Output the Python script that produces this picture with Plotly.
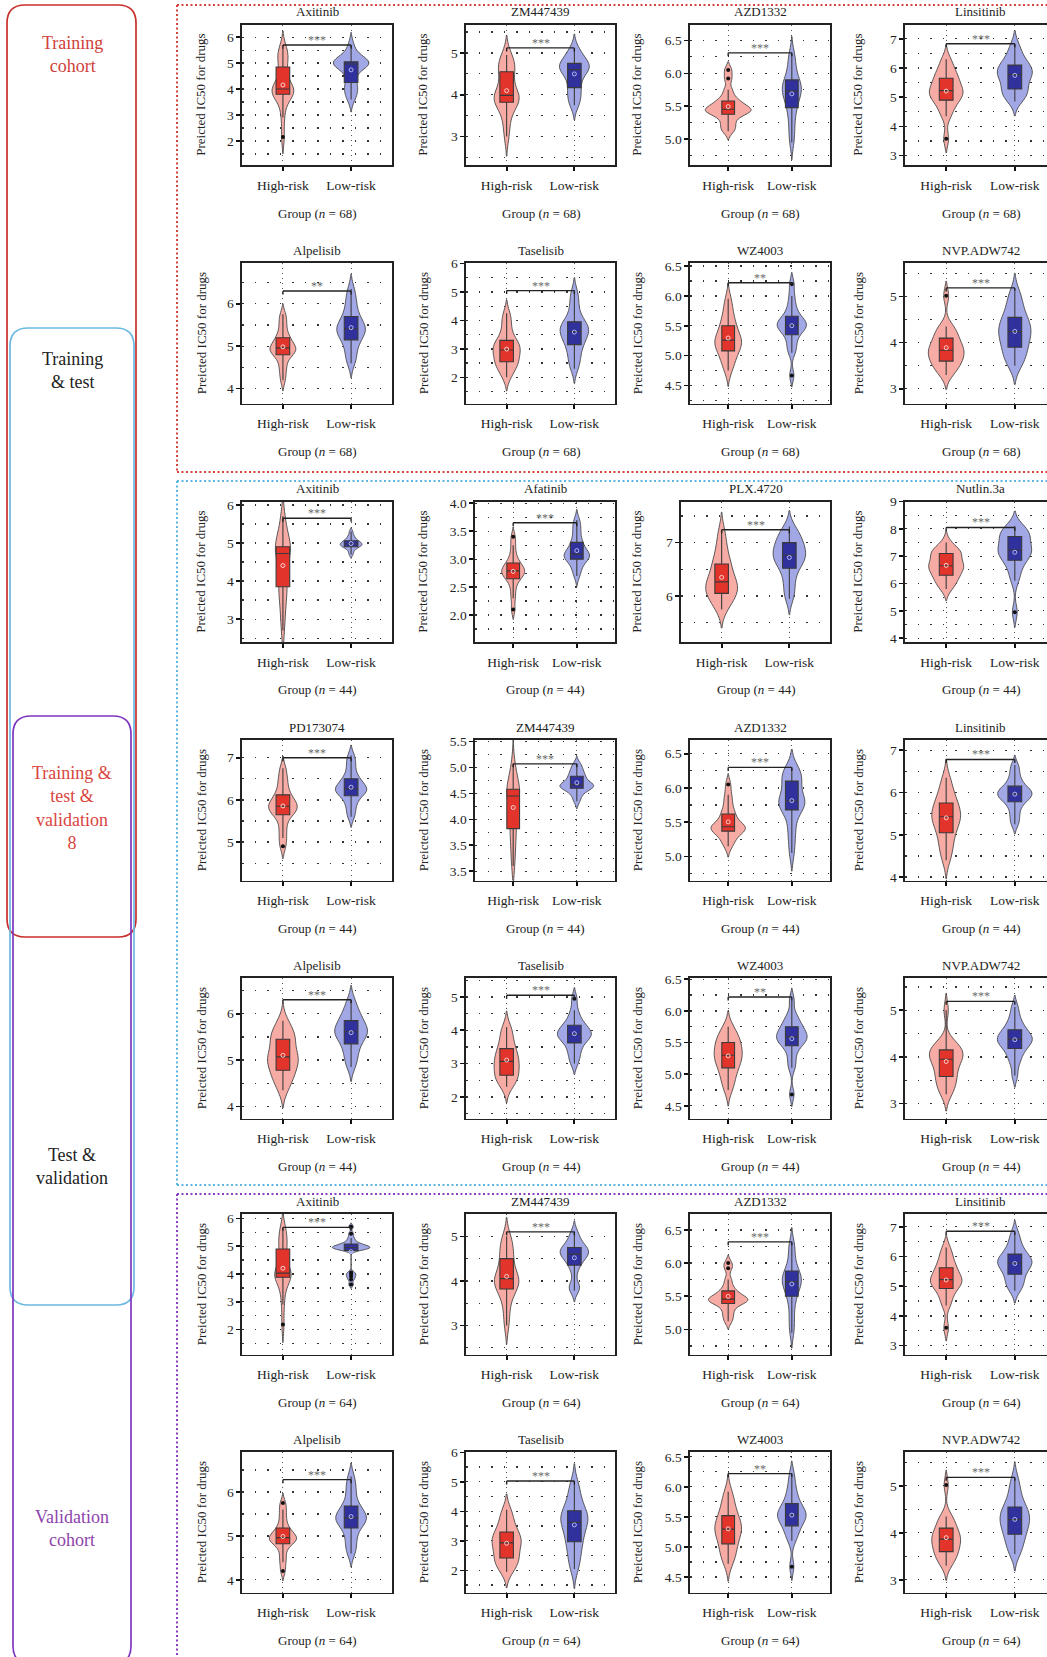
import numpy as np
import plotly.graph_objects as go

W, H = 1047, 1657
FONT = "Liberation Serif"

# ---------------- data ----------------
groups = ["High-risk", "Low-risk"]

drugs = ["Axitinib", "ZM447439", "AZD1332", "Linsitinib",
         "Alpelisib", "Taselisib", "WZ4003", "NVP.ADW742",
         "Axitinib", "Afatinib", "PLX.4720", "Nutlin.3a",
         "PD173074", "ZM447439", "AZD1332", "Linsitinib",
         "Alpelisib", "Taselisib", "WZ4003", "NVP.ADW742",
         "Axitinib", "ZM447439", "AZD1332", "Linsitinib",
         "Alpelisib", "Taselisib", "WZ4003", "NVP.ADW742"]

group_n = [68] * 8 + [44] * 12 + [64] * 8

signif = ["***", "***", "***", "***",
          "**", "***", "**", "***",
          "***", "***", "***", "***",
          "***", "***", "***", "***",
          "***", "***", "**", "***",
          "***", "***", "***", "***",
          "***", "***", "**", "***"]

bracket_y = [5.70, 5.12, 6.31, 6.83,
             6.30, 5.05, 6.22, 5.19,
             5.65, 3.65, 7.24, 8.05,
             7.00, 5.07, 6.30, 6.78,
             6.30, 5.05, 6.22, 5.19,
             5.68, 5.10, 6.32, 6.85,
             6.28, 5.03, 6.22, 5.18]

high_risk = [
    [2.15, 2.9, 3.4, 3.7, 3.8, 3.85, 3.9, 3.95, 4.0, 4.0, 4.05, 4.3, 4.6, 4.85, 5.1, 5.3, 5.4, 5.6],
    [3.0, 3.3, 3.55, 3.75, 3.82, 3.85, 3.9, 3.95, 3.97, 4.0, 4.1, 4.3, 4.5, 4.55, 4.65, 4.75, 4.85, 4.95],
    [5.12, 5.18, 5.25, 5.32, 5.38, 5.4, 5.42, 5.44, 5.45, 5.46, 5.48, 5.52, 5.56, 5.58, 5.65, 5.75, 5.92, 6.05],
    [3.58, 4.35, 4.55, 4.75, 4.9, 4.95, 5.05, 5.15, 5.2, 5.25, 5.3, 5.45, 5.6, 5.65, 5.75, 5.9, 6.1, 6.3],
    [4.2, 4.4, 4.55, 4.7, 4.8, 4.83, 4.88, 4.92, 4.95, 4.97, 5.0, 5.08, 5.15, 5.2, 5.3, 5.45, 5.6, 5.75],
    [2.0, 2.2, 2.35, 2.45, 2.55, 2.6, 2.7, 2.85, 2.95, 2.97, 3.05, 3.15, 3.25, 3.3, 3.5, 3.75, 4.0, 4.25],
    [4.75, 4.85, 4.95, 5.02, 5.08, 5.12, 5.18, 5.22, 5.25, 5.27, 5.3, 5.38, 5.45, 5.5, 5.58, 5.68, 5.8, 5.95],
    [3.3, 3.4, 3.48, 3.55, 3.6, 3.65, 3.72, 3.78, 3.82, 3.85, 3.9, 3.98, 4.05, 4.1, 4.2, 4.3, 4.35, 5.02],
    [2.7, 3.1, 3.4, 3.65, 3.85, 3.9, 4.1, 4.4, 4.65, 4.8, 4.82, 4.85, 4.88, 4.9, 5.0, 5.2, 5.45, 5.7],
    [2.1, 2.3, 2.45, 2.58, 2.65, 2.68, 2.72, 2.75, 2.78, 2.8, 2.82, 2.85, 2.9, 2.93, 3.0, 3.1, 3.25, 3.4],
    [5.75, 5.85, 5.95, 6.0, 6.05, 6.1, 6.15, 6.2, 6.25, 6.28, 6.35, 6.45, 6.55, 6.6, 6.7, 6.85, 7.0, 7.22],
    [5.8, 5.95, 6.1, 6.2, 6.3, 6.4, 6.5, 6.6, 6.63, 6.67, 6.75, 6.85, 7.0, 7.1, 7.15, 7.2, 7.25, 7.5],
    [4.9, 5.1, 5.3, 5.5, 5.65, 5.7, 5.75, 5.8, 5.83, 5.87, 5.92, 5.98, 6.05, 6.12, 6.25, 6.4, 6.55, 6.75],
    [3.1, 3.3, 3.5, 3.7, 3.82, 3.9, 4.05, 4.3, 4.42, 4.48, 4.5, 4.52, 4.55, 4.58, 4.65, 4.75, 4.9, 5.07],
    [5.15, 5.22, 5.28, 5.33, 5.37, 5.39, 5.41, 5.42, 5.43, 5.44, 5.47, 5.52, 5.6, 5.62, 5.7, 5.8, 5.9, 6.05],
    [4.4, 4.6, 4.75, 4.9, 5.05, 5.15, 5.25, 5.35, 5.4, 5.45, 5.5, 5.6, 5.7, 5.75, 5.85, 6.0, 6.15, 6.35],
    [4.35, 4.5, 4.62, 4.7, 4.78, 4.85, 4.95, 5.02, 5.05, 5.09, 5.15, 5.28, 5.4, 5.45, 5.52, 5.6, 5.7, 5.85],
    [2.3, 2.42, 2.52, 2.6, 2.65, 2.75, 2.85, 2.95, 3.05, 3.08, 3.15, 3.28, 3.4, 3.45, 3.6, 3.8, 3.95, 4.1],
    [4.75, 4.85, 4.95, 5.02, 5.1, 5.15, 5.2, 5.25, 5.28, 5.32, 5.36, 5.42, 5.47, 5.5, 5.55, 5.6, 5.68, 5.75],
    [3.2, 3.3, 3.4, 3.5, 3.58, 3.65, 3.75, 3.85, 3.93, 3.97, 4.0, 4.05, 4.12, 4.15, 4.2, 4.25, 4.32, 5.0],
    [2.18, 2.9, 3.35, 3.7, 3.88, 3.92, 3.96, 4.0, 4.02, 4.04, 4.1, 4.4, 4.8, 4.9, 5.1, 5.3, 5.5, 5.65],
    [3.0, 3.3, 3.55, 3.72, 3.82, 3.88, 3.95, 4.0, 4.03, 4.07, 4.12, 4.25, 4.4, 4.5, 4.62, 4.75, 4.88, 5.0],
    [5.12, 5.2, 5.27, 5.34, 5.39, 5.41, 5.43, 5.44, 5.45, 5.46, 5.48, 5.51, 5.55, 5.58, 5.65, 5.75, 5.92, 6.0],
    [3.6, 4.35, 4.55, 4.75, 4.92, 4.98, 5.08, 5.15, 5.2, 5.24, 5.3, 5.42, 5.55, 5.62, 5.75, 5.9, 6.1, 6.3],
    [4.2, 4.4, 4.55, 4.72, 4.82, 4.86, 4.9, 4.93, 4.95, 4.97, 5.0, 5.06, 5.12, 5.18, 5.3, 5.45, 5.6, 5.75],
    [1.95, 2.1, 2.22, 2.35, 2.42, 2.5, 2.65, 2.8, 2.9, 2.96, 3.02, 3.12, 3.22, 3.3, 3.45, 3.65, 3.85, 4.05],
    [4.72, 4.82, 4.9, 4.98, 5.05, 5.12, 5.2, 5.25, 5.28, 5.31, 5.35, 5.42, 5.47, 5.52, 5.6, 5.7, 5.8, 5.92],
    [3.3, 3.4, 3.48, 3.55, 3.6, 3.66, 3.73, 3.79, 3.85, 3.88, 3.92, 3.98, 4.05, 4.1, 4.2, 4.3, 4.35, 5.02],
]

low_risk = [
    [3.6, 3.8, 3.95, 4.1, 4.25, 4.5, 4.8, 4.9, 4.95, 4.98, 5.0, 5.0, 5.02, 5.05, 5.1, 5.2, 5.4, 5.7],
    [3.75, 3.85, 3.95, 4.1, 4.17, 4.3, 4.45, 4.55, 4.58, 4.62, 4.65, 4.7, 4.72, 4.75, 4.8, 4.9, 5.0, 5.1],
    [4.95, 5.1, 5.25, 5.38, 5.48, 5.55, 5.62, 5.68, 5.72, 5.74, 5.78, 5.82, 5.86, 5.9, 5.98, 6.08, 6.2, 6.3],
    [4.85, 5.0, 5.1, 5.2, 5.28, 5.4, 5.55, 5.68, 5.75, 5.8, 5.85, 5.95, 6.05, 6.1, 6.2, 6.35, 6.55, 6.8],
    [4.6, 4.75, 4.9, 5.05, 5.15, 5.22, 5.3, 5.36, 5.4, 5.42, 5.48, 5.55, 5.65, 5.7, 5.85, 6.0, 6.15, 6.35],
    [2.3, 2.55, 2.75, 2.95, 3.15, 3.25, 3.35, 3.5, 3.6, 3.62, 3.7, 3.8, 3.9, 3.95, 4.15, 4.4, 4.7, 5.0],
    [4.67, 5.05, 5.15, 5.25, 5.35, 5.4, 5.44, 5.48, 5.5, 5.52, 5.55, 5.58, 5.62, 5.66, 5.75, 5.85, 6.0, 6.2],
    [3.5, 3.6, 3.7, 3.8, 3.9, 3.98, 4.05, 4.15, 4.22, 4.26, 4.32, 4.4, 4.48, 4.55, 4.65, 4.8, 4.95, 5.1],
    [4.7, 4.78, 4.85, 4.88, 4.9, 4.92, 4.94, 4.96, 4.97, 4.98, 5.0, 5.02, 5.05, 5.06, 5.1, 5.15, 5.2, 5.3],
    [2.7, 2.8, 2.88, 2.95, 3.0, 3.02, 3.05, 3.07, 3.08, 3.1, 3.14, 3.2, 3.26, 3.3, 3.4, 3.5, 3.6, 3.7],
    [5.95, 6.1, 6.25, 6.4, 6.52, 6.58, 6.65, 6.7, 6.75, 6.78, 6.82, 6.88, 6.95, 7.0, 7.05, 7.12, 7.2, 7.3],
    [4.95, 6.1, 6.4, 6.65, 6.85, 6.95, 7.05, 7.15, 7.2, 7.25, 7.35, 7.5, 7.65, 7.72, 7.8, 7.9, 8.0, 8.1],
    [5.6, 5.75, 5.9, 6.0, 6.1, 6.15, 6.2, 6.23, 6.25, 6.28, 6.32, 6.38, 6.45, 6.5, 6.6, 6.75, 6.9, 7.05],
    [4.35, 4.45, 4.52, 4.57, 4.6, 4.62, 4.64, 4.65, 4.66, 4.67, 4.7, 4.75, 4.8, 4.83, 4.88, 4.93, 5.0, 5.07],
    [5.05, 5.25, 5.4, 5.55, 5.68, 5.72, 5.75, 5.78, 5.8, 5.82, 5.88, 5.95, 6.05, 6.1, 6.15, 6.2, 6.25, 6.3],
    [5.25, 5.4, 5.55, 5.68, 5.78, 5.82, 5.88, 5.92, 5.95, 5.98, 6.02, 6.06, 6.1, 6.15, 6.25, 6.35, 6.5, 6.65],
    [4.85, 5.0, 5.12, 5.25, 5.35, 5.42, 5.5, 5.56, 5.6, 5.62, 5.66, 5.72, 5.8, 5.85, 5.92, 6.02, 6.12, 6.3],
    [3.0, 3.2, 3.35, 3.5, 3.62, 3.7, 3.78, 3.84, 3.87, 3.89, 3.95, 4.02, 4.1, 4.15, 4.25, 4.4, 4.6, 4.95],
    [4.68, 5.1, 5.22, 5.35, 5.45, 5.48, 5.52, 5.56, 5.58, 5.6, 5.63, 5.67, 5.72, 5.75, 5.8, 5.87, 5.95, 6.17],
    [3.6, 3.85, 3.98, 4.08, 4.18, 4.22, 4.28, 4.33, 4.37, 4.39, 4.42, 4.47, 4.53, 4.58, 4.65, 4.75, 4.88, 5.07],
    [3.62, 3.8, 3.9, 3.98, 4.05, 4.85, 4.88, 4.9, 4.92, 4.94, 4.95, 4.96, 4.98, 5.0, 5.02, 5.05, 5.08, 5.12, 5.2, 5.3, 5.45, 5.7],
    [3.78, 3.85, 3.92, 4.2, 4.35, 4.42, 4.5, 4.55, 4.58, 4.62, 4.65, 4.68, 4.72, 4.75, 4.8, 4.88, 4.98, 5.1],
    [4.95, 5.1, 5.25, 5.4, 5.5, 5.56, 5.62, 5.67, 5.71, 5.73, 5.77, 5.8, 5.84, 5.88, 5.96, 6.06, 6.2, 6.3],
    [4.85, 5.0, 5.12, 5.25, 5.4, 5.5, 5.6, 5.7, 5.76, 5.8, 5.85, 5.92, 6.0, 6.08, 6.2, 6.35, 6.55, 6.8],
    [4.6, 4.75, 4.9, 5.05, 5.18, 5.25, 5.32, 5.37, 5.4, 5.42, 5.48, 5.55, 5.62, 5.68, 5.82, 6.0, 6.15, 6.35],
    [2.05, 2.3, 2.55, 2.8, 2.97, 3.1, 3.3, 3.5, 3.6, 3.65, 3.75, 3.85, 3.97, 4.02, 4.2, 4.45, 4.7, 4.95],
    [4.67, 5.1, 5.2, 5.28, 5.35, 5.4, 5.45, 5.5, 5.52, 5.54, 5.57, 5.62, 5.67, 5.72, 5.8, 5.9, 6.02, 6.2],
    [3.55, 3.65, 3.78, 3.88, 3.97, 4.05, 4.12, 4.2, 4.26, 4.3, 4.36, 4.43, 4.5, 4.55, 4.65, 4.8, 4.95, 5.15],
]

y_ranges = [
    [1.07, 6.49], [2.32, 5.68], [4.61, 6.74], [2.68, 7.49],
    [3.65, 6.96], [1.08, 6.02], [4.20, 6.55], [2.68, 5.73],
    [2.40, 6.09], [1.52, 4.03], [5.14, 7.77], [3.86, 9.00],
    [4.09, 7.42], [2.82, 5.53], [4.65, 6.70], [3.92, 7.24],
    [3.74, 6.77], [1.35, 5.57], [4.30, 6.52], [2.68, 5.69],
    [1.10, 6.16], [2.35, 5.50], [4.62, 6.74], [2.70, 7.43],
    [3.71, 6.91], [1.25, 6.01], [4.24, 6.58], [2.73, 5.72],
]

INT_2_6 = [2, 3, 4, 5, 6]
DEC_5_65 = [5.0, 5.5, 6.0, 6.5]
DEC_45_65 = [4.5, 5.0, 5.5, 6.0, 6.5]
ytick_vals = [
    INT_2_6, [3, 4, 5], DEC_5_65, [3, 4, 5, 6, 7],
    [4, 5, 6], INT_2_6, DEC_45_65, [3, 4, 5],
    [3, 4, 5, 6], [2.0, 2.5, 3.0, 3.5, 4.0], [6, 7], [4, 5, 6, 7, 8, 9],
    [5, 6, 7], [3.0, 3.5, 4.0, 4.5, 5.0, 5.5], DEC_5_65, [4, 5, 6, 7],
    [4, 5, 6], [2, 3, 4, 5], DEC_45_65, [3, 4, 5],
    INT_2_6, [3, 4, 5], DEC_5_65, [3, 4, 5, 6, 7],
    [4, 5, 6], INT_2_6, DEC_45_65, [3, 4, 5],
]
ytick_text = [
    ["2", "3", "4", "5", "6"], ["3", "4", "5"], ["5.0", "5.5", "6.0", "6.5"], ["3", "4", "5", "6", "7"],
    ["4", "5", "6"], ["2", "3", "4", "5", "6"], ["4.5", "5.0", "5.5", "6.0", "6.5"], ["3", "4", "5"],
    ["3", "4", "5", "6"], ["2.0", "2.5", "3.0", "3.5", "4.0"], ["6", "7"], ["4", "5", "6", "7", "8", "9"],
    ["5", "6", "7"], ["3.5", "3.5", "4.0", "4.5", "5.0", "5.5"], ["5.0", "5.5", "6.0", "6.5"], ["4", "5", "6", "7"],
    ["4", "5", "6"], ["2", "3", "4", "5"], ["4.5", "5.0", "5.5", "6.0", "6.5"], ["3", "4", "5"],
    ["2", "3", "4", "5", "6"], ["3", "4", "5"], ["5.0", "5.5", "6.0", "6.5"], ["3", "4", "5", "6", "7"],
    ["4", "5", "6"], ["2", "3", "4", "5", "6"], ["4.5", "5.0", "5.5", "6.0", "6.5"], ["3", "4", "5"],
]

y_title = "Preicted IC50 for drugs"

cohort_labels = ["Training<br>cohort", "Training<br>&amp; test", "Training &amp;<br>test &amp;<br>validation<br>8",
                 "Test &amp;<br>validation", "Validation<br>cohort"]

# ---------------- styling / layout geometry ----------------
# maximum violin widths (category units) [high, low]
violin_width = [
    [0.32, 0.52], [0.37, 0.44], [0.72, 0.30], [0.49, 0.51],
    [0.38, 0.42], [0.40, 0.42], [0.42, 0.46], [0.52, 0.47],
    [0.22, 0.32], [0.36, 0.40], [0.47, 0.48], [0.51, 0.49],
    [0.42, 0.46], [0.20, 0.53], [0.54, 0.41], [0.42, 0.50],
    [0.45, 0.48], [0.37, 0.50], [0.44, 0.48], [0.49, 0.51],
    [0.24, 0.55], [0.36, 0.42], [0.62, 0.30], [0.46, 0.50],
    [0.40, 0.45], [0.43, 0.40], [0.42, 0.45], [0.42, 0.43],
]
BW_FACTOR = 0.75   # kernel bandwidth relative to Silverman's rule
HIGH_VIOLIN, LOW_VIOLIN = "#f7aba5", "#a2a8e6"
HIGH_BOX, LOW_BOX = "#e2342b", "#30319c"
ROW_TOP = [24.5, 263, 501.5, 740, 978, 1214, 1452]
BOX_H = 140.5
COL_LEFT_INT = [242, 466, 681, 905]
COL_LEFT_DEC = [251, 475, 690, 914]
COL_RIGHT = [392, 615, 830, 1056]
YTITLE_X = [201, 423, 637, 858]


def px(x):
    return x / W


def py(y):
    return 1 - y / H


def bandwidth(vals):
    v = np.asarray(vals, dtype=float)
    q1, q3 = np.percentile(v, [25, 75])
    s = min(v.std(ddof=1), (q3 - q1) / 1.349)
    return BW_FACTOR * 1.059 * s * len(v) ** (-0.2)


fig = go.Figure()
layout = {}
annotations = []
shapes = []

for i in range(28):
    r, c = divmod(i, 4)
    k = i + 1
    sfx = "" if k == 1 else str(k)
    xa, ya = "x" + sfx, "y" + sfx
    dec = any("." in t for t in ytick_text[i])
    left = COL_LEFT_DEC[c] if dec else COL_LEFT_INT[c]
    right = COL_RIGHT[c]
    ppu = (right - left) / 2.2
    vis_right = min(right, W)
    xr = [-0.6, -0.6 + (vis_right - left) / ppu]
    top = ROW_TOP[r]
    bot = top + BOX_H
    yr = y_ranges[i]
    tv = ytick_vals[i]
    step = tv[1] - tv[0]

    layout["xaxis" + sfx] = dict(
        domain=[px(left), px(vis_right)], anchor=ya, type="category",
        categoryorder="array", categoryarray=groups, range=xr,
        showline=True, mirror=True, linecolor="#222", linewidth=1.6,
        ticks="outside", ticklen=4, tickwidth=2.2, tickcolor="#111",
        showgrid=True, gridcolor="#555", griddash="1px,4px", gridwidth=1,
        zeroline=False, tickfont=dict(family=FONT, size=13.5, color="#222"),
        ticklabelstandoff=3, fixedrange=True, automargin=False)
    layout["yaxis" + sfx] = dict(
        domain=[py(bot), py(top)], anchor=xa, range=yr,
        tickmode="array", tickvals=tv, ticktext=ytick_text[i],
        showline=True, mirror=(c < 3), linecolor="#222", linewidth=1.6,
        ticks="outside", ticklen=4, tickwidth=1.6, tickcolor="#111",
        showgrid=True, gridcolor="#333", griddash="1.5px,11px", gridwidth=1.3,
        minor=dict(tickmode="linear", tick0=tv[0], dtick=step / 2, showgrid=True,
                   gridcolor="#333", griddash="1.5px,11px", gridwidth=1.3, ticks=""),
        zeroline=False, tickfont=dict(family=FONT, size=13.5, color="#222"),
        fixedrange=True, automargin=False)

    h, l = high_risk[i], low_risk[i]
    for vals, g, vf, vw in ((h, groups[0], HIGH_VIOLIN, violin_width[i][0]),
                            (l, groups[1], LOW_VIOLIN, violin_width[i][1])):
        fig.add_trace(go.Violin(
            x=[g] * len(vals), y=vals, xaxis=xa, yaxis=ya, name=g,
            fillcolor=vf, line=dict(color="#4a4a4a", width=0.9), points=False,
            box_visible=False, meanline_visible=False, width=vw,
            bandwidth=bandwidth(vals),
            scalemode="width", showlegend=False, hoverinfo="skip"))
    for vals, g, bf in ((h, groups[0], HIGH_BOX), (l, groups[1], LOW_BOX)):
        fig.add_trace(go.Box(
            x=[g] * len(vals), y=vals, xaxis=xa, yaxis=ya, name=g,
            fillcolor=bf, line=dict(color="#3a3a3a", width=1.1), width=0.2,
            whiskerwidth=0, boxpoints="outliers",
            marker=dict(color="#111", size=4, line=dict(width=0)),
            showlegend=False, hoverinfo="skip"))
    fig.add_trace(go.Scatter(
        x=groups, y=[float(np.mean(h)), float(np.mean(l))], xaxis=xa, yaxis=ya,
        mode="markers", marker=dict(symbol="circle-open", size=4, color=["#fbd2ce", "#b4baf2"],
                                    line=dict(width=1)),
        showlegend=False, hoverinfo="skip"))

    # significance bracket
    by = bracket_y[i]
    d = (yr[1] - yr[0]) * 3.5 / BOX_H
    lc = dict(color="#222", width=1.4)
    shapes.append(dict(type="line", xref=xa, yref=ya, x0=0, x1=1, y0=by, y1=by, line=lc))
    shapes.append(dict(type="line", xref=xa, yref=ya, x0=0, x1=0, y0=by, y1=by - d, line=lc))
    shapes.append(dict(type="line", xref=xa, yref=ya, x0=1, x1=1, y0=by, y1=by - d, line=lc))
    annotations.append(dict(x=0.5, y=by, xref=xa, yref=ya, text=signif[i], showarrow=False,
                            xanchor="center", yanchor="bottom", yshift=-4,
                            font=dict(family=FONT, size=12, color="#6a6a6a")))

    cx = (left + right) / 2
    annotations.append(dict(x=px(cx), y=py(top - 12.5), xref="paper", yref="paper",
                            text=drugs[i], showarrow=False, xanchor="center", yanchor="middle",
                            font=dict(family=FONT, size=13, color="#222")))
    annotations.append(dict(x=px(cx), y=py(bot + 48), xref="paper", yref="paper",
                            text="Group (<i>n</i> = %d)" % group_n[i], showarrow=False,
                            xanchor="center", yanchor="middle",
                            font=dict(family=FONT, size=13, color="#222")))
    annotations.append(dict(x=px(YTITLE_X[c]), y=py((top + bot) / 2), xref="paper", yref="paper",
                            text=y_title, textangle=-90, showarrow=False,
                            xanchor="center", yanchor="middle",
                            font=dict(family=FONT, size=13, color="#222")))

# ---------------- section frames ----------------
def dotted(x0, y0, x1, y1, color):
    shapes.append(dict(type="line", xref="paper", yref="paper", x0=px(x0), x1=px(x1),
                       y0=py(y0), y1=py(y1), line=dict(color=color, width=2, dash="2px,2.5px")))


RED, BLUE, PURPLE = "#d6453d", "#5db5e2", "#8a3fc0"
dotted(177, 5, 1047, 5, RED)
dotted(177, 5, 177, 472, RED)
dotted(177, 472, 1047, 472, RED)
dotted(177, 481, 1047, 481, BLUE)
dotted(177, 481, 177, 1185, BLUE)
dotted(177, 1185, 1047, 1185, BLUE)
dotted(177, 1194, 1047, 1194, PURPLE)
dotted(177, 1194, 177, 1657, PURPLE)


def rrect(x0, y0, x1, y1, rad, color):
    p = ("M {a},{b} L {c},{b} Q {d},{b} {d},{e} L {d},{f} Q {d},{g} {c},{g} "
         "L {a},{g} Q {h},{g} {h},{f} L {h},{e} Q {h},{b} {a},{b} Z").format(
        a=px(x0 + rad), b=py(y0), c=px(x1 - rad), d=px(x1), e=py(y0 + rad),
        f=py(y1 - rad), g=py(y1), h=px(x0))
    shapes.append(dict(type="path", xref="paper", yref="paper", path=p,
                       line=dict(color=color, width=1.7), fillcolor="rgba(0,0,0,0)"))


rrect(7, 5, 136, 937, 18, "#c9302c")
rrect(10, 328, 134, 1305, 18, "#6cb9e3")
rrect(13, 716, 131, 1664, 18, "#7e35c0")

label_y = [54, 371, 808, 1166, 1528]
label_col = ["#d0413a", "#222222", "#d9453d", "#222222", "#8e44ad"]
for t, yy, col in zip(cohort_labels, label_y, label_col):
    annotations.append(dict(x=px(72), y=py(yy), xref="paper", yref="paper", text=t,
                            showarrow=False, xanchor="center", yanchor="middle",
                            font=dict(family=FONT, size=18, color=col)))

fig.update_layout(
    width=W, height=H, margin=dict(l=0, r=0, t=0, b=0, pad=0),
    template="none", paper_bgcolor="white", plot_bgcolor="white",
    font=dict(family=FONT, color="#222"), showlegend=False,
    violinmode="overlay", boxmode="overlay", hovermode=False,
    shapes=shapes, annotations=annotations, **layout)

fig.write_html("out.html", config={"displayModeBar": False, "staticPlot": True},
               post_script="document.body.style.margin='0';document.body.style.overflow='hidden';")
